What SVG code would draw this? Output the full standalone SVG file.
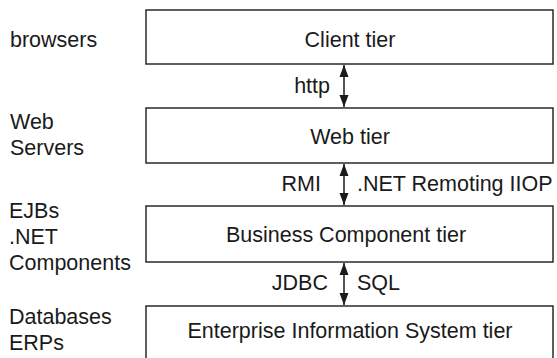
<svg xmlns="http://www.w3.org/2000/svg" width="557" height="358" viewBox="0 0 557 358">
<style>
text{font-family:"Liberation Sans",Arial,sans-serif;font-size:21.5px;fill:#1a1a1a}
.box{fill:#fff;stroke:#2a2a2a;stroke-width:1.5}
.c{text-anchor:middle}
.r{text-anchor:end}
.conn{stroke:#1a1a1a;stroke-width:1.5;fill:none}
</style>
<defs>
<marker id="ah" viewBox="0 0 12 10" refX="12" refY="5" markerWidth="12" markerHeight="10" markerUnits="userSpaceOnUse" orient="auto-start-reverse">
<path d="M0,0.5 L12,5 L0,9.5 Z" fill="#1a1a1a"/>
</marker>
</defs>
<rect width="557" height="358" fill="#fff"/>
<g id="client">
<rect class="box" x="146" y="10" width="407" height="54"/>
<text class="c" x="350" y="47">Client tier</text>
<text x="10" y="47">browsers</text>
</g>
<g id="web">
<rect class="box" x="146" y="108" width="407" height="55"/>
<text class="c" x="350" y="144">Web tier</text>
<text x="10" y="129">Web</text>
<text x="10" y="155">Servers</text>
</g>
<g id="business">
<rect class="box" x="146" y="206" width="407" height="56"/>
<text class="c" x="346" y="242">Business Component tier</text>
<text x="9" y="218">EJBs</text>
<text x="9" y="244">.NET</text>
<text x="9" y="270">Components</text>
</g>
<g id="eis">
<path class="box" d="M146,360 V306 H553 V360"/>
<text class="c" x="350" y="338">Enterprise Information System tier</text>
<text x="9" y="324">Databases</text>
<text x="9" y="350">ERPs</text>
</g>
<g id="connectors">
<line class="conn" x1="344" y1="65" x2="344" y2="107" marker-start="url(#ah)" marker-end="url(#ah)"/>
<line class="conn" x1="344" y1="164" x2="344" y2="205" marker-start="url(#ah)" marker-end="url(#ah)"/>
<line class="conn" x1="344" y1="263" x2="344" y2="305" marker-start="url(#ah)" marker-end="url(#ah)"/>
<text class="r" x="330" y="93">http</text>
<text class="r" x="321" y="191">RMI</text>
<text x="357" y="191">.NET Remoting IIOP</text>
<text class="r" x="328" y="290">JDBC</text>
<text x="357" y="290">SQL</text>
</g>
</svg>
